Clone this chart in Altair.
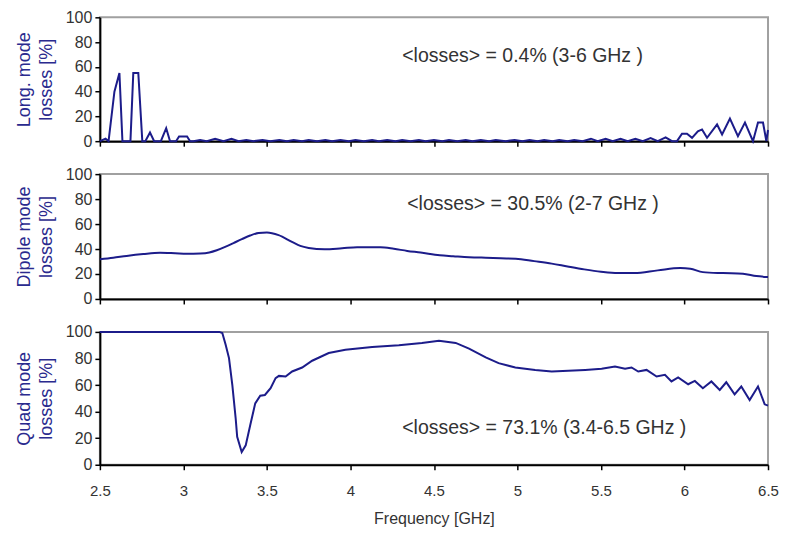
import altair as alt
import pandas as pd

# ---------------- data ----------------
long_freq = [2.50, 2.534, 2.552, 2.587, 2.617, 2.635, 2.683, 2.70, 2.73, 2.754,
             2.772, 2.80, 2.825, 2.865, 2.897, 2.92, 2.956, 2.974, 3.022, 3.04,
             3.06, 3.10, 3.14, 3.19, 3.24, 3.288, 3.33, 3.377, 3.42, 3.474,
             3.52, 3.575, 3.62, 3.66, 3.71, 3.75, 3.80, 3.85, 3.89, 3.94,
             3.99, 4.03, 4.08, 4.13, 4.17, 4.22, 4.27, 4.31, 4.36, 4.41,
             4.45, 4.50, 4.55, 4.59, 4.64, 4.69, 4.73, 4.78, 4.83, 4.87,
             4.93, 4.983, 5.03, 5.072, 5.12, 5.16, 5.21, 5.25, 5.30, 5.34,
             5.39, 5.44, 5.48, 5.528, 5.57, 5.617, 5.66, 5.706, 5.75, 5.797,
             5.84, 5.887, 5.925, 5.955, 5.985, 6.015, 6.045, 6.08, 6.105, 6.135,
             6.195, 6.225, 6.272, 6.32, 6.362, 6.41, 6.44, 6.47, 6.49, 6.50]
long_loss = [0, 2, 0, 40, 55, 0, 0, 55, 55, 0,
             0, 7, 0, 0, 10.5, 0, 0, 3.8, 3.8, 0,
             0, 1, 0, 2, 0, 2, 0, 1, 0, 1,
             0, 1, 0, 1, 0, 1, 0, 1, 0, 1,
             0, 1, 0, 1, 0, 1, 0, 1, 0, 1,
             0, 1, 0, 1, 0, 1, 0, 1, 0, 1,
             0, 1, 0, 1, 0, 1, 0, 1, 0, 1,
             0, 2, 0, 2, 0, 2, 0, 2, 0, 2.5,
             0, 3, 0, 0, 6, 6, 2.7, 8, 9.5, 2.7,
             13.5, 5.4, 18.3, 4, 15, 0, 15, 15, 0, 9]

dip_freq = [2.50, 2.58, 2.66, 2.76, 2.86, 2.95, 3.02, 3.10, 3.155, 3.20,
            3.25, 3.30, 3.35, 3.40, 3.45, 3.50, 3.57, 3.65, 3.70, 3.75,
            3.845, 3.95, 4.04, 4.18, 4.26, 4.34, 4.42, 4.535, 4.615, 4.71,
            4.81, 4.90, 4.99, 5.10, 5.205, 5.30, 5.40, 5.50, 5.60, 5.70,
            5.84, 5.975, 6.035, 6.11, 6.23, 6.35, 6.43, 6.50]
dip_loss = [31.8, 33.0, 34.5, 36.0, 37.0, 36.6, 36.2, 36.4, 37.2, 39.0,
            41.7, 44.8, 47.9, 50.8, 52.8, 53.2, 51.1, 45.7, 42.5, 40.9,
            39.8, 40.6, 41.4, 41.4, 40.2, 38.5, 37.2, 35.0, 34.3, 33.5,
            33.0, 32.6, 32.3, 30.3, 28.3, 26.0, 23.7, 21.8, 20.7, 20.7,
            22.9, 24.8, 24.2, 21.5, 20.7, 20.2, 18.3, 17.5]

quad_freq = [2.50, 3.215, 3.233, 3.253, 3.273, 3.293, 3.313, 3.322, 3.349, 3.373,
             3.40, 3.43, 3.46, 3.488, 3.522, 3.552, 3.572, 3.612, 3.651, 3.711,
             3.771, 3.87, 3.97, 4.13, 4.29, 4.428, 4.53, 4.63, 4.71, 4.81,
             4.887, 4.987, 5.106, 5.205, 5.305, 5.405, 5.504, 5.584, 5.644, 5.683,
             5.723, 5.773, 5.833, 5.883, 5.922, 5.962, 6.022, 6.062, 6.11, 6.161,
             6.211, 6.25, 6.30, 6.34, 6.39, 6.44, 6.48, 6.50]
quad_loss = [100, 100, 99.2, 90.4, 80.3, 60.0, 34.8, 21.0, 9.6, 14.6,
             29.8, 46.2, 52.0, 52.5, 57.6, 65.2, 66.9, 66.4, 70.2, 73.2,
             78.3, 84.1, 86.6, 88.6, 89.9, 91.7, 93.4, 91.7, 87.4, 80.8,
             76.5, 73.2, 71.4, 70.2, 70.7, 71.4, 72.2, 74.0, 72.2, 73.2,
             70.2, 71.4, 66.4, 67.7, 62.7, 65.7, 60.6, 63.1, 57.6, 62.7,
             56.3, 62.1, 53.0, 58.9, 48.7, 58.9, 45.5, 44.5]

ann_text = ["<losses> = 0.4% (3-6 GHz )",
            "<losses> = 30.5% (2-7 GHz )",
            "<losses> = 73.1% (3.4-6.5 GHz )"]
ann_freq = [4.31, 4.34, 4.31]
ann_loss = [69, 76, 28]

x_ticks = [2.5, 3, 3.5, 4, 4.5, 5, 5.5, 6, 6.5]
y_ticks = [0, 20, 40, 60, 80, 100]

LINE = "#1c1c8a"
TITLE_BLUE = "#2a2a8e"
FONT = "Liberation Sans"


def panel(freq, loss, title, idx, height, bottom, interp):
    df = pd.DataFrame({"f": freq, "v": loss})
    adf = pd.DataFrame({"f": [ann_freq[idx]], "v": [ann_loss[idx]], "t": [ann_text[idx]]})
    xaxis = alt.Axis(values=x_ticks, labels=bottom, title="Frequency [GHz]" if bottom else None,
                     labelExpr="datum.value", titleColor="#333333", labelFlush=False,
                     labelOverlap=False, labelPadding=14, labelFontSize=15,
                     titleFontSize=16, titlePadding=12)
    yaxis = alt.Axis(values=y_ticks, title=title, titleColor=TITLE_BLUE,
                     labelOverlap=False, labelFlush=False, labelFontSize=16,
                     labelPadding=3, titleFontSize=18, titleLineHeight=22,
                     titlePadding=10)
    x = alt.X("f:Q", scale=alt.Scale(domain=[2.5, 6.5], nice=False, zero=False), axis=xaxis)
    y = alt.Y("v:Q", scale=alt.Scale(domain=[0, 100], nice=False), axis=yaxis)
    line = alt.Chart(df).mark_line(color=LINE, strokeWidth=2, interpolate=interp).encode(x=x, y=y)
    txt = alt.Chart(adf).mark_text(align="left", baseline="middle", font=FONT, fontSize=19.5,
                                   color="#333333").encode(x=x, y=y, text="t:N")
    return alt.layer(line, txt).properties(width=669, height=height)


p1 = panel(long_freq, long_loss, ["Long. mode", "losses [%]"], 0, 124, False, "linear")
p2 = panel(dip_freq, dip_loss, ["Dipole mode", "losses [%]"], 1, 125, False, "monotone")
p3 = panel(quad_freq, quad_loss, ["Quad mode", "losses [%]"], 2, 133, True, "linear")

chart = alt.vconcat(p1, p2, p3, spacing=33, bounds="flush").properties(
    padding={"left": 6, "top": 0, "right": 0, "bottom": 0}
).configure_view(
    stroke="#a0a0a0", strokeWidth=2
).configure_axis(
    grid=False, domainColor="#000000", domainWidth=2, tickColor="#000000", tickWidth=1.5,
    tickSize=5, labelFont=FONT, labelColor="#333333", labelOverlap=False,
    titleFont=FONT, titleFontWeight="normal"
)

chart.save("out.html", embed_options={"renderer": "svg", "actions": False})
